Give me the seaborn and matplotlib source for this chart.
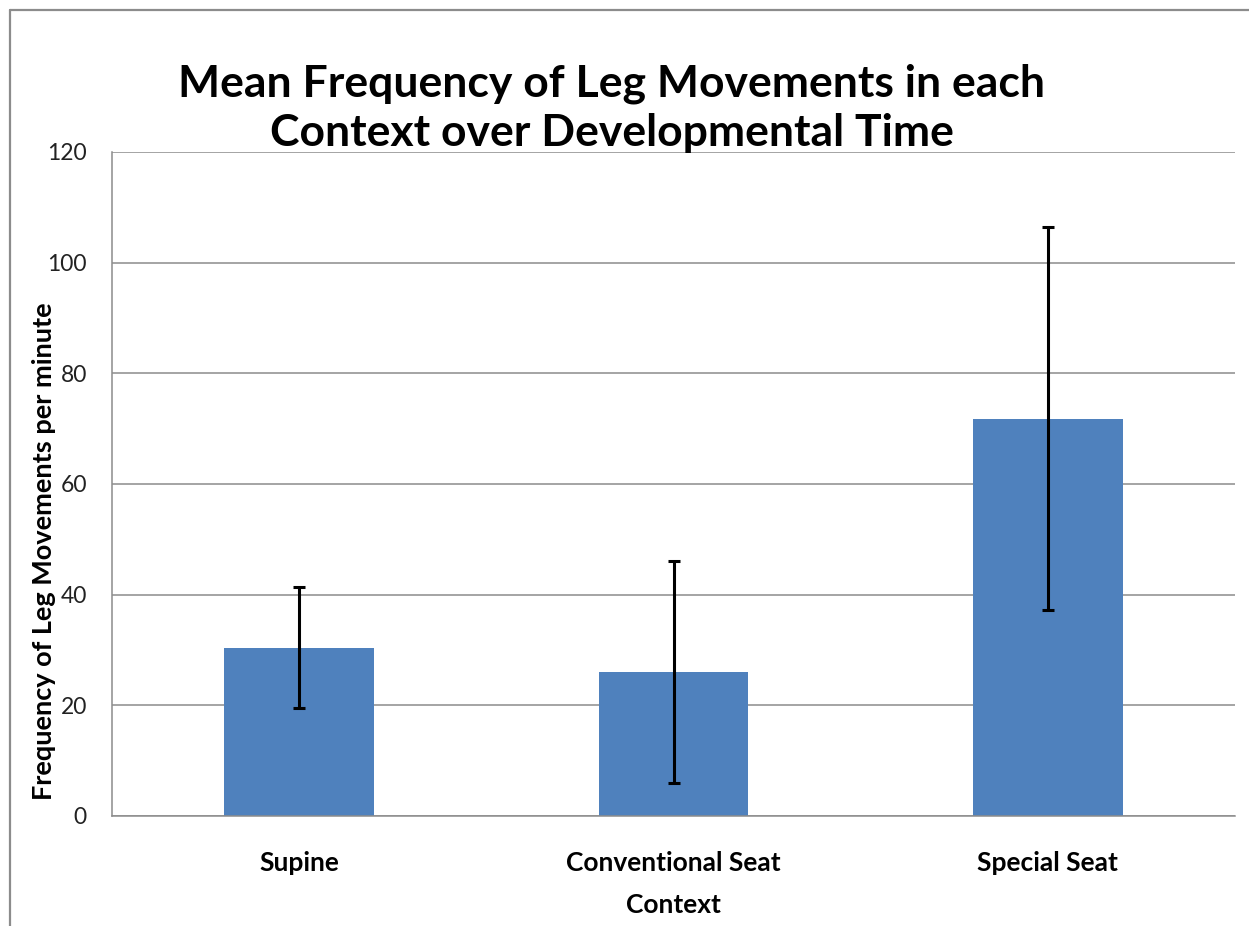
import matplotlib
matplotlib.use("Agg")
import matplotlib.pyplot as plt
import seaborn as sns
import pandas as pd
from matplotlib.lines import Line2D

categories = ["Supine", "Conventional Seat", "Special Seat"]
means = [30.4, 26.0, 71.8]
errors = [10.9, 20.1, 34.6]
yticks = [0, 20, 40, 60, 80, 100, 120]

sns.set_theme(style="white")
plt.rcParams['font.family'] = ['Lato', 'DejaVu Sans']

df = pd.DataFrame({"Context": categories, "Mean": means})

fig = plt.figure(figsize=(12.49, 9.26), dpi=100)
ax = fig.add_axes([112/1249, 1-816/926, (1235-112)/1249, (816-152)/926])

sns.barplot(data=df, x="Context", y="Mean", color="#4F81BD", saturation=1,
            width=0.4, errorbar=None, ax=ax, edgecolor="none")
ax.errorbar(x=range(len(categories)), y=means, yerr=errors, fmt="none",
            ecolor="black", elinewidth=2.2, capsize=4.6, capthick=2.2, zorder=5)

ax.set_ylim(0, 120)
ax.set_xlim(-0.5, 2.5)
ax.set_yticks(yticks)
ax.set_yticklabels([str(t) for t in yticks], fontsize=16.5, color="#222222")
ax.tick_params(axis="y", length=0, pad=18)
ax.tick_params(axis="x", length=0, pad=25)
for lab in ax.get_xticklabels():
    lab.set_fontsize(19)
    lab.set_fontweight("bold")
    lab.set_color("black")
ax.yaxis.grid(True, color="#8c8c8c", linewidth=1.1)
ax.set_axisbelow(True)
for s in ["top", "right"]:
    ax.spines[s].set_visible(False)
for s in ["left", "bottom"]:
    ax.spines[s].set_color("#8c8c8c")
    ax.spines[s].set_linewidth(1.1)

ax.set_xlabel("")
ax.set_ylabel("")
fig.text(673/1249, 1-905/926, "Context", ha="center", va="center",
         fontsize=19, fontweight="bold", color="black")
fig.text(44/1249, 1-551/926, "Frequency of Leg Movements per minute", ha="center",
         va="center", rotation=90, fontsize=19.5, fontweight="bold", color="black")
fig.text(612/1249, 1-108/926,
         "Mean Frequency of Leg Movements in each\nContext over Developmental Time",
         ha="center", va="center", fontsize=32, fontweight="bold", color="black",
         linespacing=1.28)

# outer chart border (cropped)
fig.add_artist(Line2D([10/1249, 10/1249], [0, 1-10/926], transform=fig.transFigure,
                      color="#8c8c8c", linewidth=1.6))
fig.add_artist(Line2D([10/1249, 1], [1-10/926, 1-10/926], transform=fig.transFigure,
                      color="#8c8c8c", linewidth=1.6))

fig.savefig("out.png", dpi=100)
